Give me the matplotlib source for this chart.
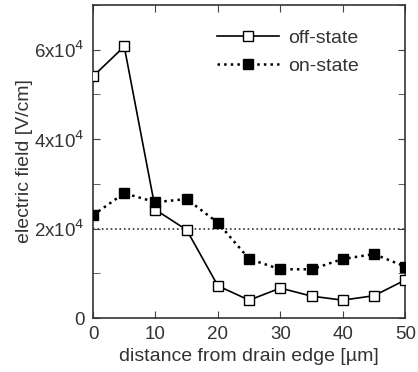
import numpy as np
import matplotlib.pyplot as plt
import matplotlib.ticker as mtick

plt.rcParams['font.family'] = ['Liberation Sans', 'DejaVu Sans']

distance = [0, 5, 10, 15, 20, 25, 30, 35, 40, 45, 50]
off_state = [5.4e4, 6.07e4, 2.42e4, 1.97e4, 0.72e4, 0.40e4, 0.67e4, 0.49e4, 0.40e4, 0.50e4, 0.85e4]
on_state = [2.30e4, 2.79e4, 2.59e4, 2.66e4, 2.13e4, 1.32e4, 1.09e4, 1.09e4, 1.32e4, 1.43e4, 1.15e4]
y_ticks = [0, 2e4, 4e4, 6e4]
y_labels = ['0', '2x10$^4$', '4x10$^4$', '6x10$^4$']

fig = plt.figure(figsize=(4.18, 3.72), dpi=100)
ax = fig.add_axes([0.2225, 0.145, 0.747, 0.842])

ax.axhline(2e4, color='#333333', linestyle=':', linewidth=1.2, zorder=1)

ax.plot(distance, off_state, '-', color='black', linewidth=1.2, marker='s',
        markersize=7, markerfacecolor='white', markeredgecolor='black',
        markeredgewidth=1.0, label='off-state', zorder=3)
ax.plot(distance, on_state, ':', color='black', linewidth=1.8, marker='s',
        markersize=7, markerfacecolor='black', markeredgecolor='black',
        label='on-state', zorder=3)

ax.set_xlim(0, 50)
ax.set_ylim(0, 7e4)
ax.set_xticks([0, 10, 20, 30, 40, 50])
ax.set_yticks(y_ticks)
ax.set_yticklabels(y_labels)
ax.yaxis.set_minor_locator(mtick.MultipleLocator(1e4))
ax.tick_params(which='both', direction='in', top=True, right=True, labelsize=13.5,
               color='#444444', labelcolor='#333333')
ax.tick_params(which='major', length=5)
ax.tick_params(which='minor', length=5)
ax.tick_params(axis='x', pad=6)
ax.tick_params(axis='y', pad=6)
for s in ax.spines.values():
    s.set_linewidth(1.2)
    s.set_color('#333333')

ax.set_xlabel('distance from drain edge [µm]', fontsize=14, color='#333333', labelpad=3)
ax.set_ylabel('electric field [V/cm]', fontsize=14, color='#333333', labelpad=1)

ax.legend(loc='upper left', frameon=False, fontsize=14, handlelength=3.2,
          handletextpad=0.5, labelspacing=0.55, bbox_to_anchor=(0.34, 0.978),
          labelcolor='#333333')

fig.savefig('out.png', dpi=100)
